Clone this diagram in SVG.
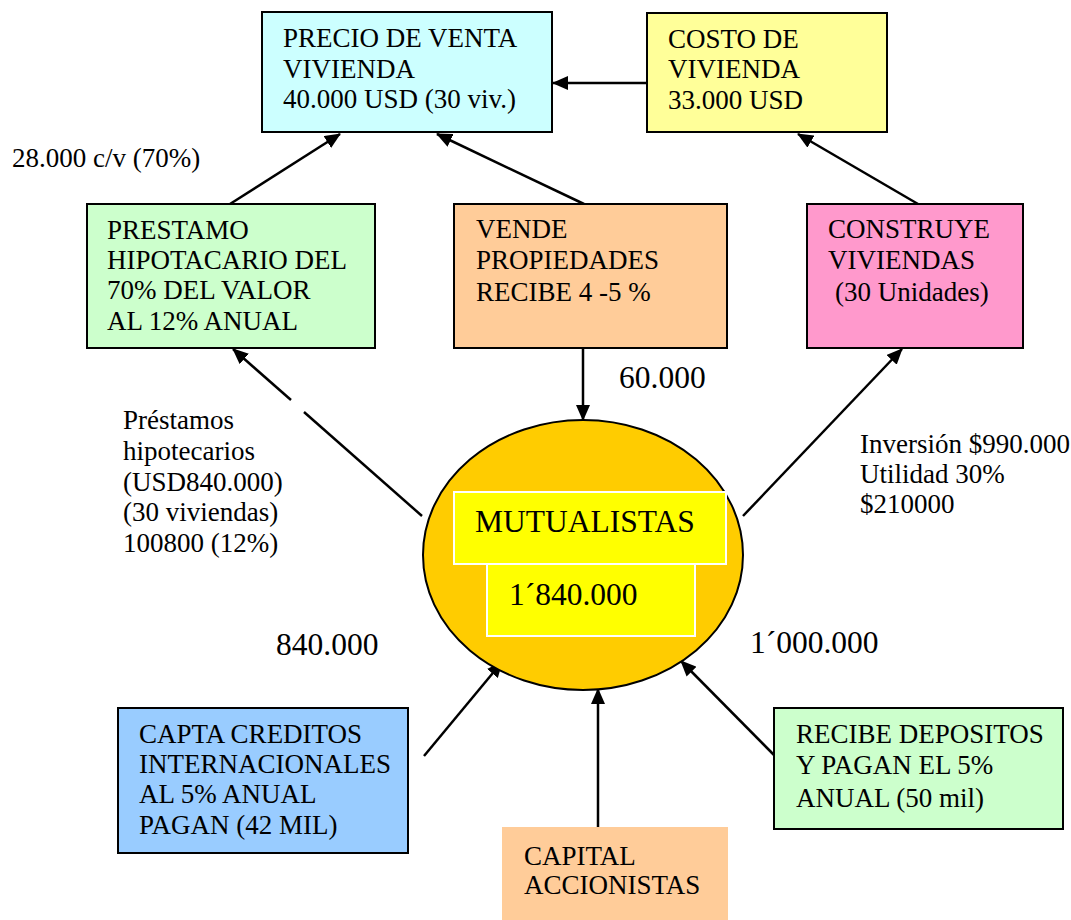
<svg xmlns="http://www.w3.org/2000/svg" width="1071" height="920" viewBox="0 0 1071 920">
  <style>
    .box { stroke: #000; stroke-width: 2; }
    .t { font-family: "Liberation Serif", "Times New Roman", serif; font-size: 27px; fill: #000; }
    .big { font-family: "Liberation Serif", "Times New Roman", serif; font-size: 31.5px; fill: #000; }
    .edge { stroke: #000; stroke-width: 2.5; fill: none; }
  </style>
  <defs>
    <marker id="arrow" markerUnits="userSpaceOnUse" markerWidth="16" markerHeight="14" refX="15" refY="7" orient="auto">
      <path d="M0,0 L16,7 L0,14 z" fill="#000"/>
    </marker>
  </defs>

  <rect width="1071" height="920" fill="#fff"/>

  <!-- connectors -->
  <g id="connectors">
    <line class="edge" x1="230" y1="204" x2="340" y2="134" marker-end="url(#arrow)"/>
    <line class="edge" x1="584" y1="204" x2="437" y2="134" marker-end="url(#arrow)"/>
    <line class="edge" x1="647" y1="83" x2="553" y2="83" marker-end="url(#arrow)"/>
    <line class="edge" x1="918" y1="204" x2="798" y2="134" marker-end="url(#arrow)"/>
    <line class="edge" x1="583" y1="348" x2="583" y2="420" marker-end="url(#arrow)"/>
    <line class="edge" x1="422" y1="516" x2="304" y2="412"/>
    <line class="edge" x1="291" y1="400" x2="233" y2="349" marker-end="url(#arrow)"/>
    <line class="edge" x1="743" y1="516" x2="902" y2="349" marker-end="url(#arrow)"/>
    <line class="edge" x1="424" y1="756" x2="502" y2="662" marker-end="url(#arrow)"/>
    <line class="edge" x1="775" y1="756" x2="681" y2="661" marker-end="url(#arrow)"/>
    <line class="edge" x1="598" y1="827" x2="598" y2="689" marker-end="url(#arrow)"/>
  </g>

  <g id="precio">
    <rect class="box" x="262" y="12" width="290" height="120" fill="#CCFFFF"/>
    <text class="t" x="283" y="47">PRECIO DE VENTA</text>
    <text class="t" x="283" y="78">VIVIENDA</text>
    <text class="t" x="283" y="108">40.000 USD (30 viv.)</text>
  </g>

  <g id="costo">
    <rect class="box" x="647" y="13" width="240" height="119" fill="#FFFF99"/>
    <text class="t" x="668" y="48">COSTO DE</text>
    <text class="t" x="668" y="78">VIVIENDA</text>
    <text class="t" x="668" y="109">33.000 USD</text>
  </g>

  <g id="prestamo">
    <rect class="box" x="87" y="204" width="288" height="144" fill="#CCFFCC"/>
    <text class="t" x="107" y="239">PRESTAMO</text>
    <text class="t" x="107" y="269">HIPOTACARIO DEL</text>
    <text class="t" x="107" y="299">70%  DEL VALOR</text>
    <text class="t" x="107" y="330">AL 12%  ANUAL</text>
  </g>

  <g id="vende">
    <rect class="box" x="454" y="204" width="273" height="144" fill="#FFCC99"/>
    <text class="t" x="476" y="238">VENDE</text>
    <text class="t" x="476" y="269">PROPIEDADES</text>
    <text class="t" x="476" y="301">RECIBE 4 -5 %</text>
  </g>

  <g id="construye">
    <rect class="box" x="807" y="204" width="216" height="144" fill="#FF99CC"/>
    <text class="t" x="828" y="238">CONSTRUYE</text>
    <text class="t" x="828" y="269">VIVIENDAS</text>
    <text class="t" x="835" y="301">(30 Unidades)</text>
  </g>

  <g id="mutualistas">
    <ellipse cx="583" cy="555" rx="160" ry="135" fill="#FFCC00" stroke="#000" stroke-width="2"/>
    <rect x="454" y="492" width="272" height="72" fill="#FFFF00" stroke="#fff" stroke-width="2"/>
    <rect x="487" y="564" width="208" height="72" fill="#FFFF00" stroke="#fff" stroke-width="2"/>
    <text class="big" x="475" y="532">MUTUALISTAS</text>
    <text class="big" x="509" y="605">1´840.000</text>
  </g>

  <g id="capta">
    <rect class="box" x="118" y="708" width="290" height="145" fill="#99CCFF"/>
    <text class="t" x="139" y="743">CAPTA CREDITOS</text>
    <text class="t" x="139" y="773">INTERNACIONALES</text>
    <text class="t" x="139" y="803">AL 5%  ANUAL</text>
    <text class="t" x="139" y="834">PAGAN (42 MIL)</text>
  </g>

  <g id="depositos">
    <rect class="box" x="774" y="708" width="289" height="121" fill="#CCFFCC"/>
    <text class="t" x="796" y="743">RECIBE DEPOSITOS</text>
    <text class="t" x="796" y="774">Y PAGAN EL 5%</text>
    <text class="t" x="796" y="807">ANUAL (50 mil)</text>
  </g>

  <g id="capital">
    <rect x="502" y="827" width="226" height="100" fill="#FFCC99"/>
    <text class="t" x="524" y="865">CAPITAL</text>
    <text class="t" x="524" y="894">ACCIONISTAS</text>
  </g>

  <!-- free-standing figures -->
  <g id="labels">
    <text class="t" x="12" y="167">28.000 c/v (70%)</text>
    <text class="t" x="123" y="429">Préstamos</text>
    <text class="t" x="123" y="460">hipotecarios</text>
    <text class="t" x="123" y="491">(USD840.000)</text>
    <text class="t" x="123" y="521">(30 viviendas)</text>
    <text class="t" x="123" y="552">100800 (12%)</text>
    <text class="t" x="860" y="453">Inversión $990.000</text>
    <text class="t" x="860" y="483">Utilidad 30%</text>
    <text class="t" x="860" y="513">$210000</text>
    <text class="big" x="619" y="388">60.000</text>
    <text class="big" x="276" y="655">840.000</text>
    <text class="big" x="750" y="653">1´000.000</text>
  </g>
</svg>
